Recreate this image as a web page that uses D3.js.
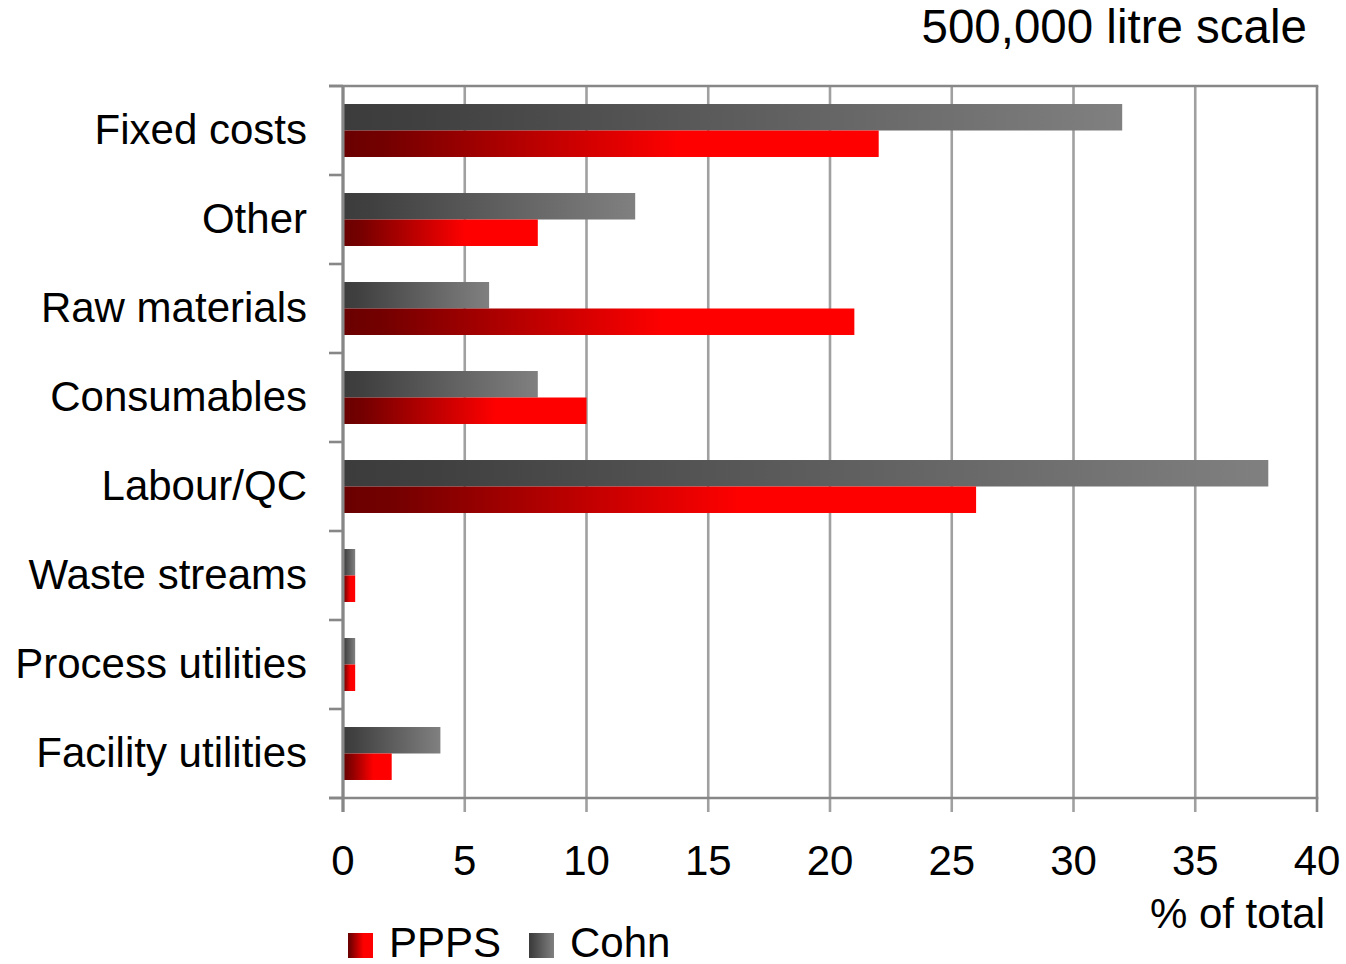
<!DOCTYPE html>
<html>
<head>
<meta charset="utf-8">
<script src="https://cdn.jsdelivr.net/npm/d3@7"></script>
<style>
  html, body { margin: 0; padding: 0; background: #fff; }
  svg { display: block; font-family: "Liberation Sans", Arial, sans-serif; }
</style>
</head>
<body>
<svg id="chart" width="1346" height="964"></svg>
<script>
// Cost breakdown categories, top to bottom
const categories = ["Fixed costs", "Other", "Raw materials", "Consumables", "Labour/QC",
                    "Waste streams", "Process utilities", "Facility utilities"];
// % of total for each process
const ppps = [22, 8, 21, 10, 26, 0.5, 0.5, 2];
const cohn = [32, 12, 6, 8, 38, 0.5, 0.5, 4];
const xTicks = [0, 5, 10, 15, 20, 25, 30, 35, 40];
const seriesNames = ["Cohn", "PPPS"];

(function () {
  const svg = d3.select("#chart");
  const plotLeft = 343, plotRight = 1317, plotTop = 86, plotBottom = 798;
  const fontSize = 42;

  const x = d3.scaleLinear().domain([0, 40]).range([plotLeft, plotRight]);
  const y = d3.scaleBand().domain(categories).range([plotTop, plotBottom]).padding(0);
  const inner = d3.scaleBand().domain(seriesNames).range([0, y.bandwidth()])
    .paddingInner(0).paddingOuter(0.68);

  // Horizontal gradients, applied per bar
  const defs = svg.append("defs");
  const redGrad = defs.append("linearGradient").attr("id", "gradRed")
    .attr("x1", 0).attr("x2", 1).attr("y1", 0).attr("y2", 0);
  [[0, "#6a0000"], [0.08, "#740000"], [0.63, "#ff0000"], [1, "#ff0000"]]
    .forEach(([o, c]) => redGrad.append("stop").attr("offset", o).attr("stop-color", c));
  const grayGrad = defs.append("linearGradient").attr("id", "gradGray")
    .attr("x1", 0).attr("x2", 1).attr("y1", 0).attr("y2", 0);
  [[0, "#3c3c3c"], [0.1, "#404040"], [1, "#808080"]]
    .forEach(([o, c]) => grayGrad.append("stop").attr("offset", o).attr("stop-color", c));

  const gridColor = "#a0a0a0", frameColor = "#878787";

  // Vertical gridlines with tick stubs below the axis
  svg.append("g").selectAll("line").data(xTicks).join("line")
    .attr("x1", d => x(d)).attr("x2", d => x(d))
    .attr("y1", plotTop).attr("y2", plotBottom + 14)
    .attr("stroke", (d, i) => (i === 0 || i === xTicks.length - 1) ? frameColor : gridColor)
    .attr("stroke-width", 2.6);

  // Top frame line and bottom axis line
  [plotTop, plotBottom].forEach(yy => {
    svg.append("line").attr("x1", plotLeft - 14).attr("x2", plotRight + 1.3)
      .attr("y1", yy).attr("y2", yy).attr("stroke", frameColor).attr("stroke-width", 2.6);
  });

  // Bars
  const rows = categories.map((c, i) => ({ cat: c, Cohn: cohn[i], PPPS: ppps[i] }));
  const g = svg.append("g");
  rows.forEach(r => {
    seriesNames.forEach(s => {
      g.append("rect")
        .attr("x", x(0))
        .attr("y", y(r.cat) + inner(s))
        .attr("width", x(r[s]) - x(0))
        .attr("height", inner.bandwidth())
        .attr("fill", s === "PPPS" ? "url(#gradRed)" : "url(#gradGray)");
    });
  });

  // Left axis line and category ticks
  svg.append("line").attr("x1", plotLeft).attr("x2", plotLeft)
    .attr("y1", plotTop).attr("y2", plotBottom + 14).attr("stroke", frameColor).attr("stroke-width", 3);
  const catBounds = categories.map(c => y(c)).concat([plotBottom]);
  svg.append("g").selectAll("line").data(catBounds).join("line")
    .attr("x1", plotLeft - 14).attr("x2", plotLeft)
    .attr("y1", d => d).attr("y2", d => d)
    .attr("stroke", frameColor).attr("stroke-width", 2.6);

  // Category labels
  svg.append("g").selectAll("text").data(categories).join("text")
    .attr("x", 307).attr("y", d => y(d) + y.bandwidth() / 2 + 13)
    .attr("text-anchor", "end").attr("font-size", fontSize).attr("fill", "#000")
    .text(d => d);

  // X tick labels
  svg.append("g").selectAll("text").data(xTicks).join("text")
    .attr("x", d => x(d)).attr("y", 875)
    .attr("text-anchor", "middle").attr("font-size", fontSize).attr("fill", "#000")
    .text(d => d);

  // Axis title and chart title
  svg.append("text").attr("x", 1325).attr("y", 928).attr("text-anchor", "end")
    .attr("font-size", fontSize).text("% of total");
  svg.append("text").attr("x", 1307).attr("y", 43).attr("text-anchor", "end")
    .attr("font-size", 47.5).text("500,000 litre scale");

  // Legend
  const legend = [
    { name: "PPPS", fill: "url(#gradRed)", x: 348 },
    { name: "Cohn", fill: "url(#gradGray)", x: 529 }
  ];
  const lg = svg.append("g");
  legend.forEach(l => {
    lg.append("rect").attr("x", l.x).attr("y", 933).attr("width", 25).attr("height", 25).attr("fill", l.fill);
    lg.append("text").attr("x", l.x + 41).attr("y", 957).attr("font-size", fontSize).text(l.name);
  });
})();
</script>
</body>
</html>
